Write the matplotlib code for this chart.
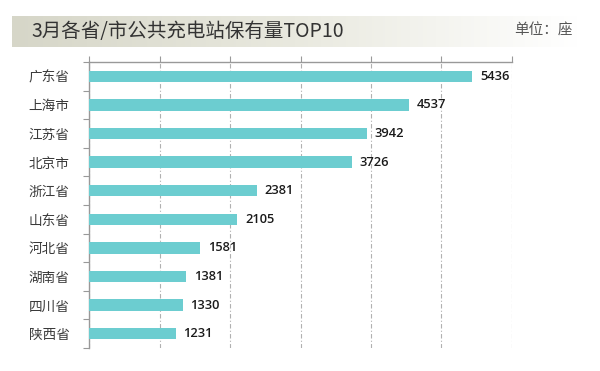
import matplotlib
matplotlib.use("Agg")
import matplotlib.pyplot as plt
from matplotlib.colors import LinearSegmentedColormap
import numpy as np

plt.rcParams['font.family'] = ['Noto Sans CJK SC', 'DejaVu Sans']

# data
regions = ["广东省", "上海市", "江苏省", "北京市", "浙江省",
           "山东省", "河北省", "湖南省", "四川省", "陕西省"]
stations = [5436, 4537, 3942, 3726, 2381, 2105, 1581, 1381, 1330, 1231]
x_ticks = [0, 1000, 2000, 3000, 4000, 5000, 6000]

W, H = 600, 371
fig = plt.figure(figsize=(W / 100, H / 100), dpi=100)

# title banner with gradient
ban = fig.add_axes([12 / W, 1 - 47 / H, (578 - 12) / W, 31 / H])
cmap = LinearSegmentedColormap.from_list("ban", ["#d6d6c8", "#e9e9df", "#ffffff"])
grad = np.linspace(0, 1, 256).reshape(1, -1)
ban.imshow(grad, aspect="auto", cmap=cmap, extent=[0, 1, 0, 1])
ban.set_axis_off()
fig.text(31 / W, 1 - 31 / H, "3月各省/市公共充电站保有量TOP10",
         fontsize=14, color="#333333", va="center", ha="left")
fig.text(573 / W, 1 - 31 / H, "单位：座",
         fontsize=10.5, color="#555555", va="center", ha="right")

# main chart
ax = fig.add_axes([89 / W, 1 - 348 / H, (512 - 89) / W, (348 - 62) / H])
y = np.arange(len(regions))
ax.barh(y, stations, height=0.4, color="#6ccdd0", zorder=3)

for yi, v in zip(y, stations):
    ax.text(v + 110, yi, str(v), va="center", ha="left", fontweight="semibold",
            fontsize=9.3, color="#1a1a1a", family=["Open Sans", "DejaVu Sans"])

ax.set_xlim(0, 6000)
ax.set_ylim(len(regions) - 0.5, -0.5)
ax.set_xticks(x_ticks)
ax.xaxis.tick_top()
ax.tick_params(axis="x", which="both", length=4, color="#999999",
               labeltop=False, labelbottom=False, direction="out")
ax.grid(axis="x", color="#b0b0b0", linestyle=(0, (4, 2, 1, 2)), linewidth=0.8, zorder=0)

# category ticks on boundaries, labels at centers
ax.set_yticks(np.arange(len(regions) + 1) - 0.5, minor=False)
ax.set_yticklabels([])
ax.tick_params(axis="y", length=4, color="#999999", direction="out")
ax.set_yticks(y, minor=True)
ax.set_yticklabels(regions, minor=True, fontsize=9.8, color="#3a3a3a", fontweight="medium")
ax.tick_params(axis="y", which="minor", length=0, pad=14)

for s in ["right", "bottom"]:
    ax.spines[s].set_visible(False)
for s in ["top", "left"]:
    ax.spines[s].set_color("#999999")
    ax.spines[s].set_linewidth(1.0)

fig.savefig("out.png", dpi=100)
